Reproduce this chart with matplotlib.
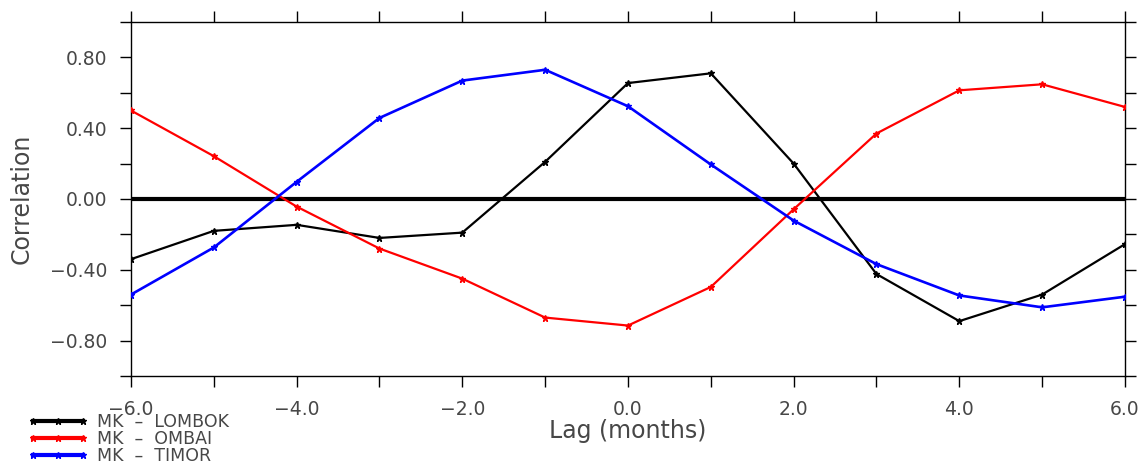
import numpy as np
import matplotlib
matplotlib.use('Agg')
import matplotlib.pyplot as plt

# lag correlation data
lags = [-6, -5, -4, -3, -2, -1, 0, 1, 2, 3, 4, 5, 6]
lombok = [-0.34, -0.18, -0.146, -0.22, -0.19, 0.21, 0.655, 0.71, 0.20, -0.424, -0.69, -0.54, -0.255]
ombai = [0.50, 0.242, -0.043, -0.28, -0.45, -0.67, -0.715, -0.497, -0.058, 0.37, 0.614, 0.648, 0.52]
timor = [-0.54, -0.274, 0.097, 0.458, 0.669, 0.73, 0.524, 0.195, -0.122, -0.368, -0.545, -0.612, -0.552]
labels = ['MK  \u2013  LOMBOK', 'MK  \u2013  OMBAI', 'MK  \u2013  TIMOR']
colors = ['black', 'red', 'blue']

xticks = np.arange(-6, 7, 2)
yticks = [-0.8, -0.4, 0.0, 0.4, 0.8]

plt.rcParams['font.family'] = ['DejaVu Sans']
textc = '#474747'

fig = plt.figure(figsize=(11.47, 4.65), dpi=100)
ax = fig.add_axes([0.1142, 0.1914, 0.8666, 0.7613])

ax.axhline(0.0, color='black', linewidth=3, zorder=1)

handles = []
for series, c, lw in zip([lombok, ombai, timor], colors, [1.6, 1.6, 1.9]):
    h, = ax.plot(lags, series, color=c, linewidth=lw, marker='*', markersize=5, zorder=3)
    handles.append(h)

ax.set_xlim(-6, 6)
ax.set_ylim(-1, 1)
ax.set_xticks(xticks)
ax.set_xticklabels(['%.1f' % v if v >= 0 else '\u2212%.1f' % -v for v in xticks])
ax.set_xticks(np.arange(-6, 7, 1), minor=True)
ax.set_yticks(yticks)
ax.set_yticklabels(['%.2f' % v if v >= 0 else '\u2212%.2f' % -v for v in yticks])
ax.set_yticks(np.arange(-1.0, 1.01, 0.2), minor=True)

for which in ['major', 'minor']:
    ax.tick_params(axis='both', which=which, direction='out', length=8, width=1.0,
                   top=True, right=True, color='black')
ax.tick_params(axis='both', which='major', labelsize=13.5, labelcolor=textc, pad=9)
for s in ax.spines.values():
    s.set_linewidth(1.0)

ax.set_xlabel('Lag (months)', fontsize=17, color=textc, labelpad=0)
ax.set_ylabel('Correlation', fontsize=17, color=textc, labelpad=12)

leg = fig.legend(handles, labels, loc='upper left', bbox_to_anchor=(0.024, 0.112),
                 frameon=False, fontsize=12.5, handlelength=3.5, handletextpad=0.5,
                 labelspacing=-0.05, borderpad=0, numpoints=3, borderaxespad=0)
for t in leg.get_texts():
    t.set_color(textc)
for lh in leg.legend_handles:
    lh.set_linewidth(3)

fig.savefig('out.png', dpi=100)
